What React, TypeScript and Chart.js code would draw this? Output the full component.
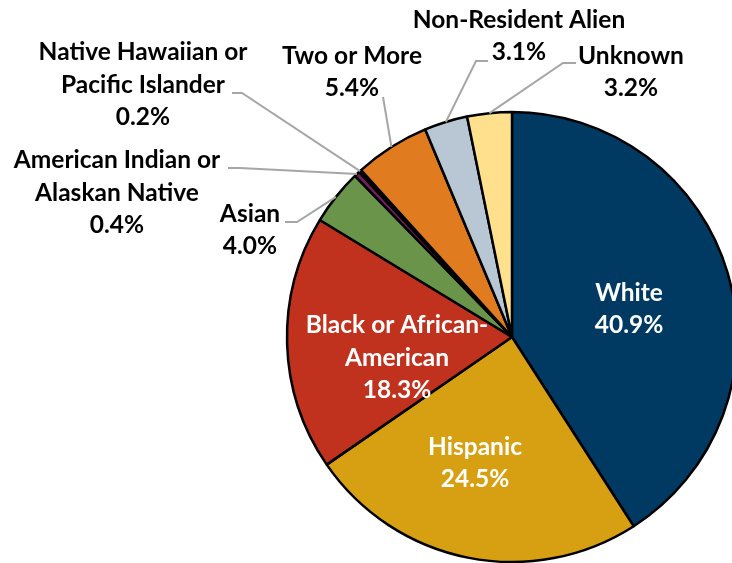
import React, { useEffect, useRef } from "react";
import { Chart, registerables } from "chart.js";

Chart.register(...registerables);

const categories = [
  "White",
  "Hispanic",
  "Black or African-American",
  "Asian",
  "American Indian or Alaskan Native",
  "Native Hawaiian or Pacific Islander",
  "Two or More",
  "Non-Resident Alien",
  "Unknown",
];
const values = [40.9, 24.5, 18.3, 4.0, 0.4, 0.2, 5.4, 3.1, 3.2];
const labelLines = [
  ["White"],
  ["Hispanic"],
  ["Black or African-", "American"],
  ["Asian"],
  ["American Indian or", "Alaskan Native"],
  ["Native Hawaiian or", "Pacific Islander"],
  ["Two or More"],
  ["Non-Resident Alien"],
  ["Unknown"],
];
const colors = [
  "#003A63",
  "#D6A012",
  "#C0311E",
  "#6A9449",
  "#6E1F5C",
  "#2A1A2A",
  "#E07B1F",
  "#B9C7D4",
  "#FFE08C",
];
const textColors = ["#FFFFFF", "#FFFFFF", "#FFFFFF", "#000", "#000", "#000", "#000", "#000", "#000"];
// label block centre, offset from pie centre
const labelPos: [number, number][] = [
  [117, -28],
  [-37, 126],
  [-115, 21],
  [-262, -107],
  [-395, -144],
  [-369, -252],
  [-160, -265],
  [7, -301],
  [119, -265],
];
// leader line: [start, elbow] offsets from pie centre (null = inside label)
const leaders: ([number, number][] | null)[] = [
  null,
  null,
  null,
  [[-227, -115], [-215, -115]],
  [[-284, -169], [-272, -169]],
  [[-280, -244], [-270, -244]],
  [[-129, -240], [-129, -240]],
  [[-24, -276], [-36, -276]],
  [[64, -274], [51, -274]],
];

const FONT = "bold 24.5px Lato";
const LINE_H = 32.5;

const labelPlugin = {
  id: "pieLabels",
  afterDatasetsDraw(chart: any) {
    const ctx = chart.ctx;
    const meta = chart.getDatasetMeta(0);
    ctx.save();
    meta.data.forEach((arc: any, i: number) => {
      const { x, y, startAngle, endAngle, outerRadius } = arc.getProps(
        ["x", "y", "startAngle", "endAngle", "outerRadius"],
        true
      );
      const lead = leaders[i];
      if (lead) {
        const mid = (startAngle + endAngle) / 2;
        const ex = x + Math.cos(mid) * outerRadius;
        const ey = y + Math.sin(mid) * outerRadius;
        ctx.strokeStyle = "#A6A6A6";
        ctx.lineWidth = 2;
        ctx.beginPath();
        ctx.moveTo(x + lead[0][0], y + lead[0][1]);
        ctx.lineTo(x + lead[1][0], y + lead[1][1]);
        ctx.lineTo(ex, ey);
        ctx.stroke();
      }
      const lines = [...labelLines[i], values[i].toFixed(1) + "%"];
      const cx = x + labelPos[i][0];
      const cy = y + labelPos[i][1];
      ctx.font = FONT;
      ctx.fillStyle = textColors[i];
      ctx.textAlign = "center";
      ctx.textBaseline = "middle";
      const n = lines.length;
      lines.forEach((t, k) => {
        ctx.fillText(t, cx, cy + (k - (n - 1) / 2) * LINE_H);
      });
    });
    ctx.restore();
  },
};

export default function App() {
  const ref = useRef<HTMLCanvasElement>(null);
  useEffect(() => {
    if (!ref.current) return;
    const chart = new Chart(ref.current, {
      type: "pie",
      data: {
        labels: categories,
        datasets: [
          {
            data: values,
            backgroundColor: colors,
            borderColor: "#000000",
            borderWidth: 2.5,
          },
        ],
      },
      options: {
        responsive: false,
        animation: false,
        radius: 225,
        layout: { padding: { left: 224, right: 0, top: 0, bottom: 26 } },
        plugins: {
          legend: { display: false },
          tooltip: { enabled: false },
        },
      },
      plugins: [labelPlugin],
    });
    return () => chart.destroy();
  }, []);
  return (
    <div
      style={{
        position: "fixed",
        left: 0,
        top: 0,
        width: 732,
        height: 563,
        overflow: "hidden",
        background: "#fff",
      }}
    >
      <canvas ref={ref} width={800} height={700} style={{ display: "block" }} />
    </div>
  );
}
